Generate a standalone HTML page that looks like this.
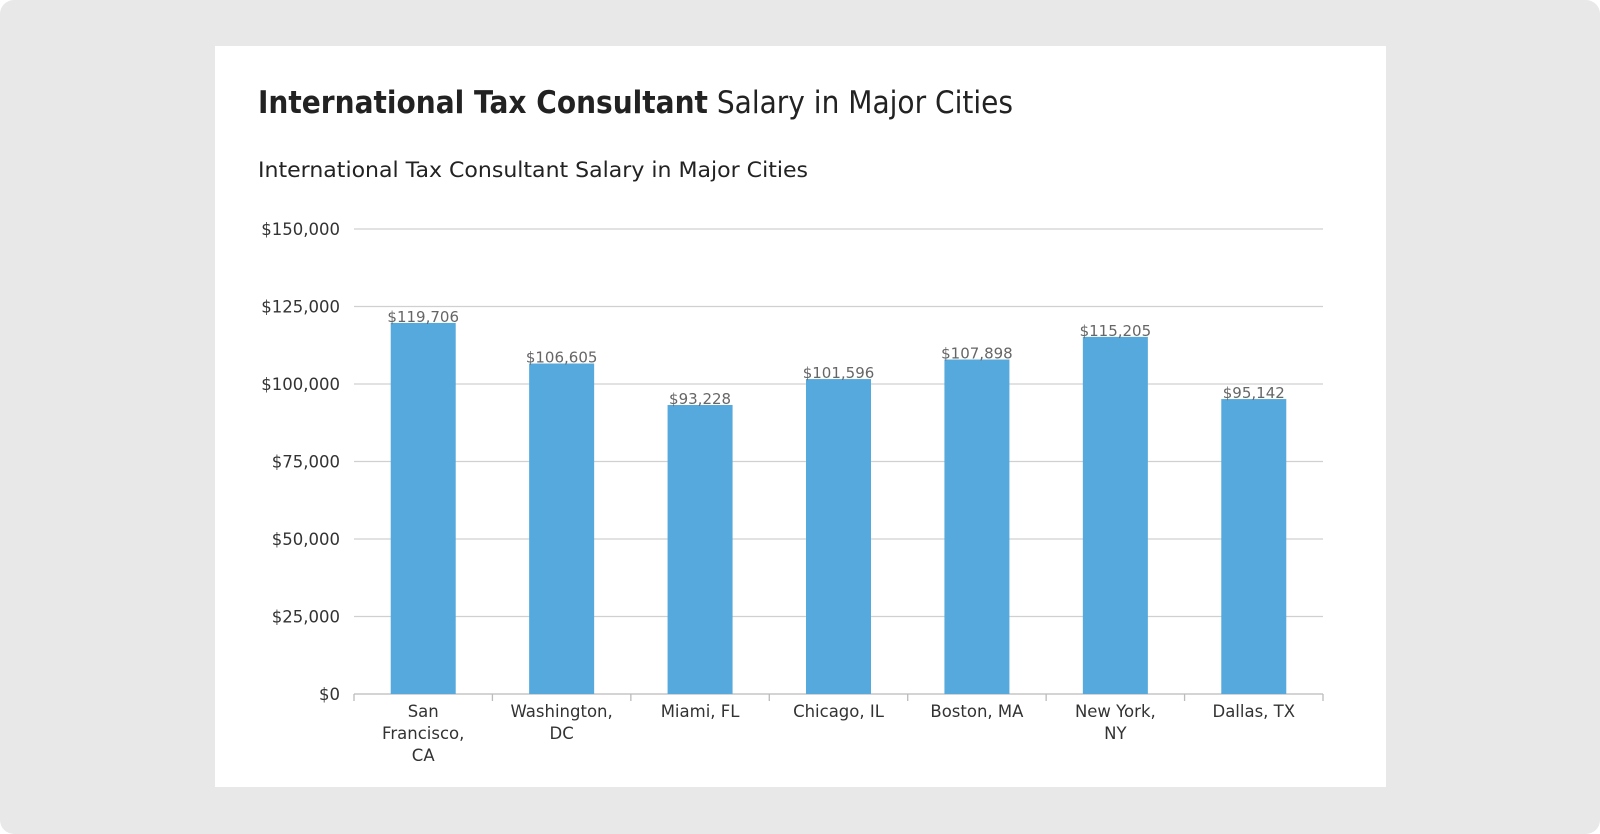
<!DOCTYPE html>
<html><head><meta charset="utf-8"><style>
html,body{margin:0;padding:0;background:#fff;}
body{width:1600px;height:834px;overflow:hidden;}
#bg{position:absolute;left:0;top:0;width:1600px;height:834px;background:#e8e8e8;border-radius:14px;}
#card{position:absolute;left:215px;top:46px;width:1171px;height:741px;background:#fff;}
svg text{font-family:"DejaVu Sans","Liberation Sans",sans-serif;}
</style></head><body>
<div id="bg"></div>
<div id="card"></div>
<svg id="chart" width="1600" height="834" style="position:absolute;left:0;top:0">
<text x="258" y="113" font-size="31" fill="#222" textLength="755" lengthAdjust="spacingAndGlyphs"><tspan font-weight="bold">International Tax Consultant</tspan> Salary in Major Cities</text>
<text x="258" y="177" font-size="21" fill="#222" textLength="550" lengthAdjust="spacingAndGlyphs">International Tax Consultant Salary in Major Cities</text>
<g id="grid"></g><g id="bars"></g><g id="labels"></g>
</svg>
<script>
const categories=[["San","Francisco,","CA"],["Washington,","DC"],["Miami, FL"],["Chicago, IL"],["Boston, MA"],["New York,","NY"],["Dallas, TX"]];
const salaries=[119706,106605,93228,101596,107898,115205,95142];
const valueLabels=["$119,706","$106,605","$93,228","$101,596","$107,898","$115,205","$95,142"];
const ticks=[0,25000,50000,75000,100000,125000,150000];
const tickLabels=["$0","$25,000","$50,000","$75,000","$100,000","$125,000","$150,000"];
const NS="http://www.w3.org/2000/svg";
const L=354,R=1323,B=694,T=229,MAX=150000;
const y=v=>B-(v/MAX)*(B-T);
const band=(R-L)/categories.length;
const x=i=>L+band*(i+0.5);
function mk(tag,attrs,parent){const e=document.createElementNS(NS,tag);for(const k in attrs)e.setAttribute(k,attrs[k]);parent.appendChild(e);return e;}
const g=document.getElementById('grid'),gb=document.getElementById('bars'),gl=document.getElementById('labels');
ticks.forEach((t,i)=>{
  const ln=mk('line',{x1:L,x2:R,y1:y(t),y2:y(t),stroke:t===0?'#bbb':'#d0d0d0','stroke-width':1.3},g);
  
  
  const tx=mk('text',{x:340,y:y(t)+6,'text-anchor':'end','font-size':16.5,fill:'#333'},g);
  tx.textContent=tickLabels[i];
  
  
});
for(let i=0;i<=categories.length;i++){
  const tk=mk('line',{x1:L+band*i,x2:L+band*i,y1:B,y2:B+7,stroke:'#bbb','stroke-width':1.3},g);
  
  
}
const bw=65;
salaries.forEach((v,i)=>{
  const r=mk('rect',{x:x(i)-bw/2,y:y(v),width:bw,height:B-y(v),fill:'#55a9dc'},gb);
  
  
  const vt=mk('text',{x:x(i),y:y(v)-1,'text-anchor':'middle','font-size':15,fill:'#666'},gl);
  vt.textContent=valueLabels[i];
  
  
  categories[i].forEach((line,j)=>{
    const ct=mk('text',{x:x(i),y:717+j*22,'text-anchor':'middle','font-size':16.5,fill:'#333'},gl);
    ct.textContent=line;
    
    
  });
});
</script>
</body></html>
